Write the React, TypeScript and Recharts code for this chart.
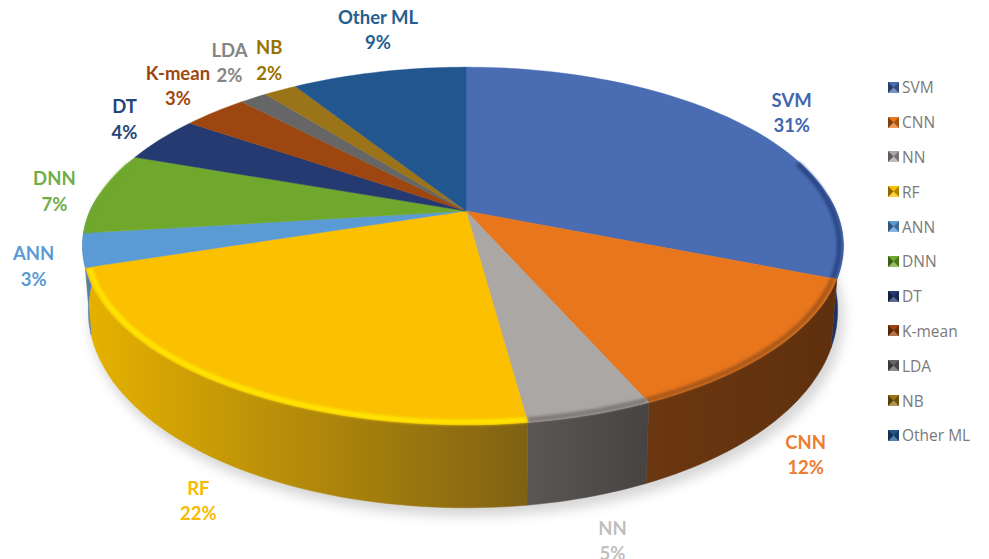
import React from 'react';
import { PieChart, Pie, Legend } from 'recharts';

const names = ['SVM', 'CNN', 'NN', 'RF', 'ANN', 'DNN', 'DT', 'K-mean', 'LDA', 'NB', 'Other ML'];
// slice sizes as measured on the picture, printed labels are the rounded figures
const shares = [31, 12.35, 4.5, 22.15, 3, 7.4, 4.2, 3.3, 1.4, 1.7, 9];
const printed = ['31%', '12%', '5%', '22%', '3%', '7%', '4%', '3%', '2%', '2%', '9%'];

const topColors = ['#4a6cb3', '#e8761c', '#aba7a5', '#fbc000', '#5b9bd5', '#6fa82d', '#243a70', '#9e4610', '#666666', '#9b7318', '#22568f'];
const rimColors = ['#2b4684', '#a9581a', '#7d7977', '#ffe600', '#5b9bd5', '#6fa82d', '#243a70', '#9e4610', '#666666', '#9b7318', '#22568f'];
const wallFrom = ['#1c3263', '#6b3710', '#5b5755', '#e6b200', '#4a7fb8', '#4a7fb8', '#16264a', '#6a2f0a', '#444444', '#6a4f10', '#163a60'];
const wallTo = ['#1c3263', '#5f300e', '#474342', '#7f6114', '#4a7fb8', '#4a7fb8', '#16264a', '#6a2f0a', '#444444', '#6a4f10', '#163a60'];
const labelColors = ['#3f66ae', '#ed7d31', '#bfbfbf', '#f7bb00', '#5b9bd5', '#70ad47', '#264478', '#9e480e', '#858585', '#997300', '#255e91'];
// label offset from the rim point at the middle of each slice
const labelNudge = [[50, -10], [31, 107], [22, 127], [-28, 116], [-49, 17], [-46, -1], [-36, -19], [-37, -25], [-24, -34], [-11, -29], [-1, -41]];

const data = names.map((name, i) => ({ name, value: shares[i], fill: topColors[i] }));

// perspective view of the disc, the far side is squeezed
const TILT = 0.1955;
const SQUASH = 172 / 370;
const LEFT_STRETCH = 376 / 370;

function project(cx: number, cy: number, r: number, deg: number, lower = false, scale = 1) {
  const a = (deg * Math.PI) / 180;
  const u = Math.cos(a) * scale;
  const v = -Math.sin(a) * scale;
  const den = 1 - TILT * v;
  // left side bulges a little more, mostly on the near half
  const rx = u < 0 ? r * (1 + (LEFT_STRETCH - 1) * Math.min(1, 1 + v)) : r;
  let x = (rx * u) / den;
  let y = (r * SQUASH * v) / den;
  if (lower) {
    x *= 0.985;
    y += 60 + 23 * v;
  }
  return [cx + x, cy + y];
}

function arcDegrees(p: any) {
  const list = [];
  const steps = Math.max(2, Math.ceil(Math.abs(p.endAngle - p.startAngle) / 1.5));
  for (let i = 0; i <= steps; i++) list.push(p.startAngle + ((p.endAngle - p.startAngle) * i) / steps);
  return list;
}

function arcPoints(p: any, lower = false, scale = 1) {
  return arcDegrees(p).map((deg) => project(p.cx, p.cy, p.outerRadius, deg, lower, scale));
}

const toPath = (pts: number[][]) => pts.map((q, i) => `${i ? 'L' : 'M'}${q[0].toFixed(1)} ${q[1].toFixed(1)}`).join(' ');

function ShadowShape(p: any) {
  const pts = arcPoints(p, true, 1.005);
  const center = project(p.cx, p.cy, p.outerRadius, 0, true, 0);
  return (
    <path
      d={`${toPath([center, ...pts])} Z`}
      transform="translate(4 7)"
      fill="#000"
      fillOpacity={0.16}
      style={{ filter: 'blur(6px)' }}
    />
  );
}

function WallShape(p: any) {
  const i = names.indexOf(p.name);
  // the far side of the wall never shows
  const degs = arcDegrees(p).filter((deg) => Math.sin((deg * Math.PI) / 180) < 0.1);
  if (degs.length < 2) return <g />;
  const upper = degs.map((deg) => project(p.cx, p.cy, p.outerRadius, deg));
  const lower = degs.map((deg) => project(p.cx, p.cy, p.outerRadius, deg, true)).reverse();
  const id = `wall-${i}`;
  return (
    <g>
      <defs>
        <linearGradient id={id} x1="0" y1="0" x2="1" y2="0">
          <stop offset="0%" stopColor={wallFrom[i]} />
          <stop offset="100%" stopColor={wallTo[i]} />
        </linearGradient>
      </defs>
      <path d={`${toPath([...upper, ...lower])} Z`} fill={`url(#${id})`} stroke={`url(#${id})`} strokeWidth={0.5} />
    </g>
  );
}

function TopShape(p: any) {
  const i = names.indexOf(p.name);
  // bevel only shows on the near part of the rim
  const rim = arcDegrees(p)
    .filter((deg) => Math.sin((deg * Math.PI) / 180) < 0.3)
    .map((deg) => project(p.cx, p.cy, p.outerRadius, deg, false, 0.99));
  const center = project(p.cx, p.cy, p.outerRadius, 0, false, 0);
  return (
    <g>
      <path d={`${toPath([center, ...arcPoints(p)])} Z`} fill={topColors[i]} stroke={topColors[i]} strokeWidth={0.4} />
      {rim.length > 1 && (
        <path d={toPath(rim)} fill="none" stroke={rimColors[i]} strokeWidth={5} style={{ filter: 'blur(1.5px)' }} />
      )}
    </g>
  );
}

function renderLabel(p: any) {
  const i = names.indexOf(p.name);
  const rim = project(p.cx, p.cy, p.outerRadius, p.midAngle);
  const x = rim[0] + labelNudge[i][0];
  const y = rim[1] + labelNudge[i][1];
  return (
    <text
      x={x}
      y={y}
      textAnchor="middle"
      fill={labelColors[i]}
      style={{ fontFamily: 'Lato, sans-serif', fontWeight: 700, fontSize: 18.5 }}
    >
      <tspan x={x} dy={-7}>{p.name}</tspan>
      <tspan x={x} dy={25.5}>{printed[i]}</tspan>
    </text>
  );
}

function LegendList(props: any) {
  const seen = new Set();
  const rows = (props.payload || []).filter((e: any) => {
    if (seen.has(e.value)) return false;
    seen.add(e.value);
    return true;
  });
  return (
    <div>
      {rows.map((e: any) => {
        const c = topColors[names.indexOf(e.value)];
        return (
          <div key={e.value} style={{ height: 34.8, display: 'flex', alignItems: 'center' }}>
            <svg width={11} height={11} style={{ marginRight: 3 }}>
              <rect width={11} height={11} fill={c} />
              <polygon points="0,0 5.5,5.5 0,11" fill="#000" fillOpacity={0.45} />
              <polygon points="11,0 5.5,5.5 11,11" fill="#000" fillOpacity={0.3} />
              <polygon points="0,11 5.5,5.5 11,11" fill="#fff" fillOpacity={0.25} />
            </svg>
            <span style={{ fontFamily: '"Open Sans", sans-serif', fontSize: 15.5, color: '#7a7a7a' }}>{e.value}</span>
          </div>
        );
      })}
    </div>
  );
}

export default function App() {
  return (
    <div style={{ position: 'absolute', left: 0, top: 0, width: 989, height: 559, overflow: 'hidden', background: '#fff' }}>
      <PieChart width={989} height={600} margin={{ top: 0, right: 0, bottom: 0, left: 0 }}>
        <Pie data={data} dataKey="value" nameKey="name" cx={466} cy={211} outerRadius={370} startAngle={90} endAngle={-270}
          shape={ShadowShape} legendType="none" isAnimationActive={false} />
        <Pie data={data} dataKey="value" nameKey="name" cx={466} cy={211} outerRadius={370} startAngle={90} endAngle={-270}
          shape={WallShape} legendType="none" isAnimationActive={false} />
        <Pie data={data} dataKey="value" nameKey="name" cx={466} cy={211} outerRadius={370} startAngle={90} endAngle={-270}
          shape={TopShape} label={renderLabel} labelLine={false} isAnimationActive={false} />
        <Legend content={LegendList} itemSorter={null} layout="vertical" align="right" verticalAlign="top"
          wrapperStyle={{ left: 888, top: 70, width: 100 }} />
      </PieChart>
    </div>
  );
}
